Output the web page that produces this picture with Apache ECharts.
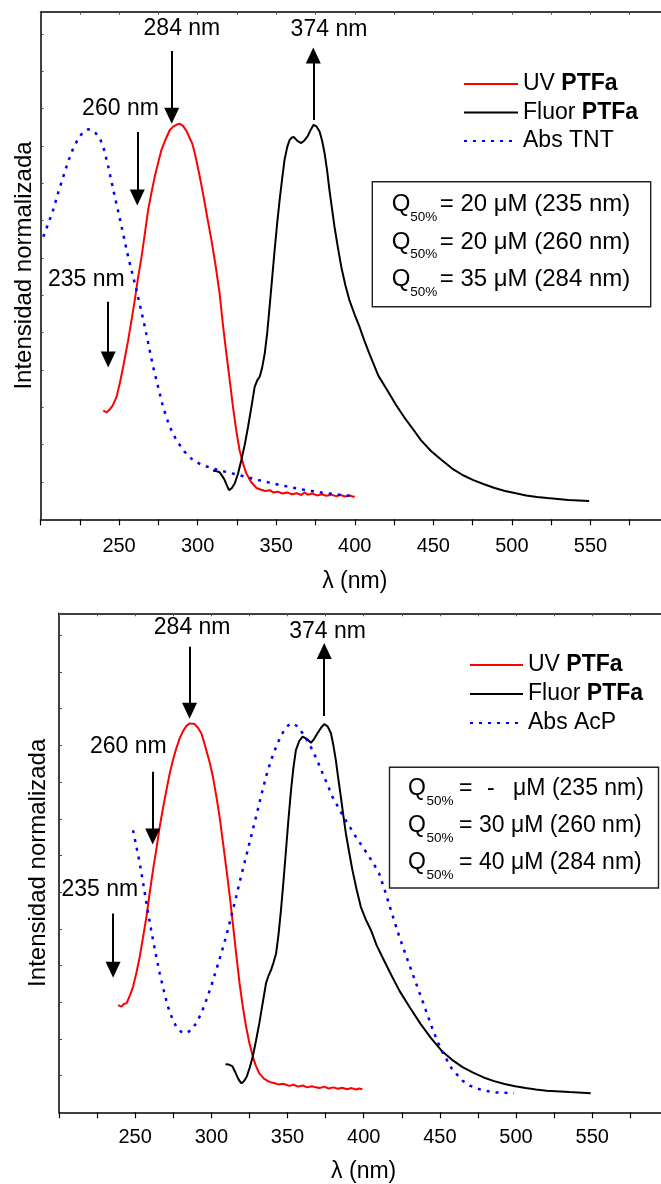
<!DOCTYPE html>
<html><head><meta charset="utf-8">
<script src="https://cdn.jsdelivr.net/npm/echarts@6/dist/echarts.min.js"></script>
<style>html,body{margin:0;padding:0;background:#fff}#c{width:661px;height:1184px}</style>
</head><body><div id="c"></div><script>
// ---------- data (wavelength nm, normalized intensity) ----------
const uvTop = [[240,0.292],[242,0.286],[244,0.294],[246,0.305],[248.4,0.328],[250.5,0.365],[252.6,0.408],[255.8,0.480],[258,0.535],[260,0.587],[262,0.645],[264.3,0.703],[266.5,0.768],[268.5,0.829],[270.6,0.875],[272.7,0.918],[275,0.957],[277,0.990],[279.5,1.017],[282.3,1.043],[284.5,1.052],[286.5,1.057],[288.5,1.060],[290.7,1.054],[293,1.040],[295,1.021],[296.5,1.008],[298.2,0.981],[300.8,0.930],[303.4,0.874],[306,0.812],[308.8,0.748],[311.5,0.678],[314,0.605],[316,0.525],[318.3,0.444],[320.5,0.370],[322.5,0.301],[324.5,0.240],[326.7,0.185],[329,0.148],[331,0.123],[334,0.100],[337.4,0.084],[340,0.080],[343,0.076],[346,0.078],[348,0.072],[351,0.074],[354,0.069],[357,0.072],[360,0.067],[363,0.070],[366,0.065],[368,0.072],[370,0.066],[373,0.069],[376,0.064],[379,0.067],[382,0.063],[385,0.066],[388,0.062],[391,0.065],[394,0.061],[397,0.064],[399,0.060],[400,0.062]];
const fluorTop = [[309.8,0.131],[312,0.129],[314,0.126],[315.5,0.117],[317.2,0.105],[318.7,0.090],[320,0.078],[321.8,0.084],[323.6,0.096],[325.7,0.122],[327.8,0.158],[330,0.200],[332.1,0.248],[334.2,0.300],[336.3,0.355],[338,0.373],[339.5,0.382],[341,0.405],[342.7,0.444],[344.3,0.500],[345.8,0.569],[347.4,0.645],[349,0.721],[350.6,0.792],[352.2,0.856],[353.8,0.913],[355.3,0.963],[357,0.997],[358.5,1.016],[360,1.023],[361.3,1.024],[363.5,1.014],[365.9,1.008],[368,1.015],[370.1,1.027],[372,1.044],[373.8,1.057],[375.8,1.052],[377.6,1.039],[379.2,1.015],[380.8,0.981],[382.4,0.935],[383.9,0.882],[385.5,0.833],[387.1,0.784],[389.2,0.730],[391.4,0.677],[394,0.628],[396.6,0.587],[399.8,0.550],[403,0.516],[406,0.480],[409.3,0.444],[415,0.385],[420.7,0.346],[426,0.308],[431.4,0.274],[437,0.242],[442.1,0.212],[448.5,0.183],[455.5,0.158],[462,0.136],[468.9,0.118],[475.5,0.105],[482.3,0.094],[489,0.084],[495.7,0.076],[502.5,0.070],[509.1,0.064],[516,0.060],[522.5,0.057],[536,0.052],[549.2,0.049]];
const absTNT = [[201.8,0.757],[205,0.793],[208.1,0.829],[211,0.872],[214.5,0.918],[217.5,0.958],[220.8,0.994],[224,1.020],[227,1.037],[230.4,1.045],[234,1.040],[237.8,1.021],[240.5,0.990],[243.1,0.945],[245.2,0.905],[247.3,0.864],[249.5,0.824],[251.6,0.784],[255.8,0.703],[261.1,0.614],[266.4,0.516],[271.7,0.408],[278,0.301],[282,0.250],[286.5,0.212],[291.5,0.182],[297.1,0.158],[303,0.145],[309.8,0.136],[318,0.127],[326.7,0.118],[337,0.107],[347.9,0.096],[358,0.087],[369.1,0.078],[380,0.071],[390,0.066],[398.7,0.062]];

const uvBot = [[238.8,0.292],[241,0.288],[242.5,0.295],[244.3,0.297],[246.5,0.318],[248.6,0.342],[250.8,0.380],[253,0.424],[255.2,0.478],[257.4,0.533],[259.5,0.597],[261.7,0.660],[264,0.720],[266.1,0.778],[268.3,0.830],[270.5,0.878],[272.6,0.922],[274.8,0.960],[277,0.992],[279.2,1.019],[281.4,1.039],[283.6,1.053],[286,1.060],[289,1.058],[291.2,1.048],[293.4,1.033],[295,1.012],[296.7,0.987],[299,0.952],[301,0.915],[303.2,0.863],[305.4,0.806],[307.5,0.740],[309.7,0.669],[312,0.592],[314.1,0.515],[316.3,0.432],[318.5,0.352],[320.7,0.287],[322.8,0.233],[325,0.188],[327.2,0.152],[329.3,0.126],[331.5,0.106],[334.5,0.092],[338.1,0.083],[341,0.080],[344,0.076],[347,0.078],[351.2,0.072],[354,0.075],[357,0.070],[360,0.073],[363,0.068],[366,0.071],[368.6,0.068],[371,0.066],[374,0.070],[377,0.065],[380,0.068],[383,0.064],[386,0.067],[389,0.063],[392,0.066],[395,0.062],[397,0.065],[399.1,0.063]];
const fluorBot = [[309.3,0.131],[311.5,0.130],[313.7,0.126],[315.4,0.112],[317,0.097],[318.4,0.086],[319.8,0.079],[321.5,0.085],[323.2,0.097],[325.2,0.122],[327.2,0.152],[329.3,0.195],[331.5,0.243],[333.7,0.298],[335.9,0.352],[337.5,0.372],[339.2,0.388],[340.8,0.408],[342.5,0.433],[344.1,0.485],[345.7,0.551],[347.4,0.633],[349,0.715],[350.6,0.798],[352.3,0.878],[353.9,0.940],[355.5,0.987],[357.7,1.012],[359.9,1.024],[362.6,1.018],[365.4,1.007],[367.5,1.018],[369.7,1.033],[372,1.048],[374.1,1.058],[376.3,1.052],[378.5,1.033],[380.1,1.000],[381.7,0.960],[383.3,0.910],[385,0.860],[386.6,0.810],[388.3,0.760],[390.4,0.710],[392.6,0.660],[395.3,0.608],[398.1,0.560],[401.4,0.525],[404.7,0.497],[408.5,0.455],[412.4,0.422],[418,0.375],[423.5,0.331],[430.4,0.285],[437.3,0.241],[444.2,0.202],[451.1,0.168],[458,0.143],[464.9,0.123],[471.8,0.108],[478.7,0.095],[485.6,0.085],[492.5,0.077],[499.4,0.071],[506.3,0.066],[513,0.062],[520,0.059],[535,0.055],[549,0.052]];
const absAcP = [[248.6,0.769],[250.8,0.724],[253,0.679],[255.2,0.625],[257.4,0.570],[259.5,0.519],[261.7,0.470],[263.9,0.423],[266.1,0.379],[268.8,0.332],[271.5,0.288],[274.2,0.257],[277,0.233],[280,0.220],[283.1,0.215],[286.5,0.223],[290.1,0.243],[293.4,0.270],[296.7,0.306],[300,0.345],[303.2,0.388],[306.5,0.433],[309.7,0.479],[313,0.533],[316.3,0.588],[319.5,0.643],[322.8,0.697],[326.1,0.752],[329.4,0.806],[332.6,0.861],[335.9,0.915],[339.2,0.960],[342.5,0.996],[345.2,1.022],[347.9,1.042],[350.6,1.055],[353.3,1.060],[356.6,1.052],[359.9,1.033],[363.1,1.012],[366.4,0.987],[369.7,0.957],[373,0.924],[376.3,0.892],[379.5,0.860],[382.8,0.835],[386.1,0.810],[390.4,0.781],[394.8,0.751],[399.2,0.724],[403.5,0.697],[406.8,0.675],[410.1,0.651],[413.9,0.604],[418,0.549],[423.5,0.477],[429,0.413],[434.5,0.350],[440.1,0.286],[445.6,0.222],[451.1,0.168],[458,0.118],[464.9,0.086],[470,0.072],[475.9,0.063],[481,0.058],[487,0.054],[493,0.053],[498.6,0.052]];

// annotation labels [x, y, text] and arrows [x, yStart, yTip]
const labelsTop = [[290.0,1.314,'284 nm'],[383.6,1.311,'374 nm'],[250.9,1.100,'260 nm'],[229.2,0.641,'235 nm']];
const arrowsTop = [[283.5,1.255,1.061],[373.6,1.070,1.263],[261.6,1.038,0.842],[243.1,0.583,0.408]];
const labelsBot = [[287.4,1.322,'284 nm'],[376.3,1.310,'374 nm'],[245.5,0.996,'260 nm'],[226.8,0.606,'235 nm']];
const arrowsBot = [[285.7,1.269,1.074],[374.1,1.080,1.278],[261.5,0.928,0.731],[235.5,0.542,0.368]];

const legendTop = ['UV PTFa','Fluor PTFa','Abs TNT'];
const legendBot = ['UV PTFa','Fluor PTFa','Abs AcP'];
const qTop = [['= 20 μM (235 nm)'],['= 20 μM (260 nm)'],['= 35 μM (284 nm)']];
const qBot = [['=','-','μM (235 nm)'],['= 30 μM (260 nm)'],['= 40 μM (284 nm)']];
const xTicks = [250,300,350,400,450,500,550];

// ---------- chart ----------
const FONT = '"Liberation Sans", Arial, sans-serif';
const chart = echarts.init(document.getElementById('c'), null, {renderer:'canvas'});

function xBottom(i, nameGap, margin){
  return {type:'value', gridIndex:i, position:'bottom', min:200, max:600, interval:25,
    name:'λ (nm)', nameLocation:'middle', nameGap:nameGap,
    nameTextStyle:{fontFamily:FONT, fontSize:23, color:'#000'},
    axisLine:{show:true, onZero:false, lineStyle:{color:'#000', width:1.5}},
    axisTick:{show:true, inside:false, length:6, lineStyle:{color:'#000', width:1.2}},
    axisLabel:{margin:margin, fontFamily:FONT, fontSize:20, color:'#000', opacity:1,
      formatter:v => xTicks.indexOf(v) >= 0 ? String(v) : ''},
    splitLine:{show:false}};
}
function xTop(i){
  return {type:'value', gridIndex:i, position:'top', min:200, max:600, interval:25,
    axisLine:{show:true, onZero:false, lineStyle:{color:'#000', width:1.5}},
    axisTick:{show:true, inside:true, length:3, lineStyle:{color:'#555', width:1}},
    axisLabel:{show:false}, splitLine:{show:false}};
}
function yLeft(i, nameGap){
  return {type:'value', gridIndex:i, min:0, max:1.36, interval:0.1,
    name:'Intensidad normalizada', nameLocation:'middle', nameGap:nameGap,
    nameTextStyle:{fontFamily:FONT, fontSize:24, color:'#000'},
    axisLine:{show:true, onZero:false, lineStyle:{color:'#000', width:1.5}},
    axisTick:{show:true, inside:true, length:3, lineStyle:{color:'#444', width:1}},
    axisLabel:{show:false}, splitLine:{show:false}};
}
function curve(name, data, xi, yi, color, width, dash){
  return {type:'line', name:name, data:data, xAxisIndex:xi, yAxisIndex:yi,
    symbol:'none', showSymbol:false, smooth:false, silent:true,
    lineStyle:{color:color, width:width, type:dash || 'solid'},
    itemStyle:{color:color}, z:3};
}
function arrowSeries(arrows, xi, yi){
  return {type:'scatter', xAxisIndex:xi, yAxisIndex:yi, silent:true, z:5,
    symbol:'triangle', symbolSize:[15,16], itemStyle:{color:'#000', opacity:1},
    data: arrows.map(a => ({value:[a[0], a[2]],
      symbolRotate: a[2] < a[1] ? 180 : 0,
      symbolOffset: [0, a[2] < a[1] ? -7.5 : 7.5]})),
    markLine:{silent:true, symbol:['none','none'], label:{show:false},
      lineStyle:{color:'#000', width:2, type:'solid', opacity:1},
      emphasis:{disabled:true},
      data: arrows.map(a => [{coord:[a[0], a[1]]},{coord:[a[0], a[2] + (a[2] < a[1] ? 0.01 : -0.01)]}])}};
}
function labelSeries(labels, xi, yi){
  return {type:'scatter', xAxisIndex:xi, yAxisIndex:yi, silent:true, z:6,
    symbolSize:1, itemStyle:{color:'#fff', opacity:1},
    data: labels.map(l => ({value:[l[0], l[1]], name:l[2]})),
    label:{show:true, position:'inside', formatter: p => p.name,
      fontFamily:FONT, fontSize:23, color:'#000', opacity:1, textBorderWidth:0, textShadowBlur:0}};
}
function legendCfg(names, left, top, rowH, w){
  return {data:names, orient:'vertical', left:left, top:top, padding:0,
    itemWidth:w, itemHeight:14, itemGap:0, selectedMode:false,
    itemStyle:{color:'rgba(0,0,0,0)', borderWidth:0, opacity:0},
    formatter: n => n.replace('PTFa', '{b|PTFa}'),
    textStyle:{fontFamily:FONT, fontSize:23, color:'#000', lineHeight:rowH,
      rich:{b:{fontFamily:FONT, fontSize:23, fontWeight:'bold', color:'#000', lineHeight:rowH}}}};
}
function qBox(rect, rows, qx, mid0, step, fs, eqOff){
  const els = [{type:'rect', shape:rect, style:{fill:'none', stroke:'#222', lineWidth:1.4}, z:100}];
  const t = (x, y, s, size) => ({type:'text', x:x, y:y, z:101,
    style:{text:s, fontFamily:FONT, fontSize:size, fill:'#000', align:'left', verticalAlign:'middle'}});
  rows.forEach((r, k) => {
    const y = mid0 + k*step;
    els.push(t(qx, y, 'Q', fs));
    els.push(t(qx+18.5, y+12.5, '50%', 13.5));
    if (r.length === 1) {
      els.push(t(qx+eqOff, y, r[0], fs));
    } else {
      els.push(t(qx+eqOff, y, r[0], fs));
      els.push(t(qx+eqOff+28, y, r[1], fs));
      els.push(t(qx+eqOff+54, y, r[2], fs));
    }
  });
  return els;
}

const option = {
  animation:false,
  backgroundColor:'#fff',
  grid:[
    {left:40.5, top:11.7, width:628.5, height:507.6, outerBoundsMode:'none', containLabel:false},
    {left:59, top:613.3, width:609.4, height:499, outerBoundsMode:'none', containLabel:false}
  ],
  xAxis:[xBottom(0, 51, 17), xTop(0), xBottom(1, 48, 15.5), xTop(1)],
  yAxis:[yLeft(0, 4), yLeft(1, 8.5)],
  legend:[legendCfg(legendTop, 463, 69.75, 28.5, 54), legendCfg(legendBot, 469, 650.5, 29, 53)],
  series:[
    curve('UV PTFa', uvTop, 0, 0, '#ff0000', 2),
    curve('Fluor PTFa', fluorTop, 0, 0, '#000000', 2),
    curve('Abs TNT', absTNT, 0, 0, '#0000ff', 2.5, [3,6]),
    arrowSeries(arrowsTop, 0, 0),
    labelSeries(labelsTop, 0, 0),
    curve('UV PTFa', uvBot, 2, 1, '#ff0000', 2),
    curve('Fluor PTFa', fluorBot, 2, 1, '#000000', 2),
    curve('Abs AcP', absAcP, 2, 1, '#0000ff', 2.5, [3,6]),
    arrowSeries(arrowsBot, 2, 1),
    labelSeries(labelsBot, 2, 1)
  ],
  graphic:{elements:[].concat(
    qBox({x:372.3, y:181.7, width:278.4, height:125}, qTop, 391.7, 204.7, 37.4, 24, 48),
    qBox({x:389.5, y:767.3, width:269, height:120.7}, qBot, 408.1, 789, 36.8, 23, 51)
  )}
};
chart.setOption(option);
</script></body></html>
